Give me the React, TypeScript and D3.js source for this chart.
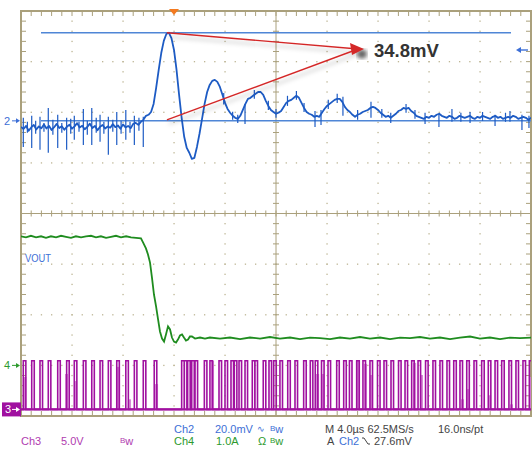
import React from 'react';
import * as d3 from 'd3';

// scope settings: 4.0 µs/div, trigger at t = 0
const timeDomain: [number, number] = [-12, 28];
const ch2PerDiv = 20; // mV
const ch3PerDiv = 5; // V
const ch4PerDiv = 1; // A
const ch2Offset = 1.83; // divisions above centre
const ch3Offset = -3.87;
const ch4Offset = -3.0;

// Ch2 ripple, sampled every 0.2 µs from t = -12 µs (mV)
const ch2Start = -12;
const ch2Step = 0.2;
const ch2Values = [
  -2.4, -3.2, -2.0, -3.9, -2.6, -1.6, -3.4, -2.2, -2.9, -1.4, -3.0, -2.0, -3.6, -2.5, -1.2, -2.8,
  -2.1, -3.5, -2.3, -1.5, -3.1, -2.2, -0.9, -2.6, -1.9, -3.3, -2.4, -1.1, -2.8, -2.0, -3.7, -2.3,
  -1.6, -3.0, -2.2, -2.7, -1.3, -2.5, -1.8, -3.1, -1.4, -2.6, -2.0, -2.9, -1.2, -0.8, -1.6, -0.4,
  0.4, 2.0, 2.4, 3.5, 6.7, 13.0, 20.1, 26.8, 31.6, 34.3, 34.8, 32.7, 28.0, 20.1, 10.3, 1.2,
  -6.3, -10.7, -12.6, -15.0, -14.6, -10.3, -5.1, 0.8, 6.7, 11.4, 14.2, 15.8, 16.2, 15.4, 13.4, 10.3,
  7.1, 4.7, 3.2, 2.0, 1.2, 0.8, 2.0, 4.3, 6.7, 8.7, 9.1, 9.9, 10.7, 11.4, 11.4, 10.3,
  7.9, 5.9, 4.3, 3.5, 2.8, 3.2, 3.9, 5.5, 7.1, 7.9, 8.3, 9.1, 9.9, 9.1, 7.1, 5.1,
  3.5, 2.8, 2.4, 1.6, 2.0, 1.6, 3.2, 4.7, 5.9, 6.7, 7.5, 8.3, 8.7, 8.7, 7.5, 5.5,
  4.3, 3.5, 2.4, 1.6, 2.4, 2.8, 3.5, 3.9, 4.3, 5.1, 5.5, 5.1, 4.3, 3.2, 2.4, 1.6,
  2.0, 1.2, 2.0, 2.8, 3.9, 4.3, 5.1, 4.7, 5.1, 3.9, 3.2, 2.0, 1.6, 1.2, 0.8, 1.6,
  1.2, 2.0, 1.6, 2.4, 2.8, 2.0, 1.6, 1.2, 2.0, 1.6, 0.8, 1.2, 2.0, 1.6, 1.2, 1.6,
  2.0, 1.2, 0.8, 1.6, 1.2, 2.0, 1.6, 1.2, 0.8, 1.6, 2.0, 1.2, 1.6, 0.8, 1.2, 1.6,
  1.2, 2.0, 1.6, 0.8, 1.2, 1.6, 1.2, 0.4, 1.2,
];

// switching glitches and fuzz on Ch2: [t µs, low mV, high mV]
const ch2Spikes: [number, number, number][] = [
  [-11.82, -10.3, 1.2], [-11.16, -10.7, 2.0], [-10.51, -11.4, 1.6], [-9.86, -12.6, 5.1],
  [-9.12, -10.7, 2.4], [-8.42, -11.4, 1.2], [-7.82, -7.5, 2.0], [-7.11, -9.5, 4.7],
  [-6.45, -9.5, 5.1], [-5.80, -8.3, 2.4], [-5.15, -13.4, 1.6], [-4.49, -9.5, 3.5],
  [-3.78, -7.5, 4.3], [-3.11, -9.5, 2.0], [-2.41, -10.3, 1.6],
  [-11.5, -4.7, -0.4], [-10.85, -5.1, 0.0], [-10.2, -4.3, -0.8], [-9.5, -5.5, 0.4],
  [-8.8, -4.7, -0.8], [-8.1, -5.1, 0.8], [-7.45, -4.3, -0.4], [-6.8, -5.5, 0.0],
  [-6.1, -4.7, 1.2], [-5.5, -5.1, -0.4], [-4.8, -4.3, 0.4], [-4.15, -5.1, 0.0],
  [-3.45, -4.7, -0.4], [-2.75, -3.9, 1.2],
  [3.9, 6.5, 11.0], [4.6, 0.4, 3.6], [5.0, -0.8, 2.4], [5.57, -1.2, 6.7], [6.3, 8.7, 12.2],
  [7.4, 4.3, 7.9], [8.0, 1.2, 4.7], [8.9, 5.9, 9.9], [9.6, 8.3, 11.8], [10.2, 3.5, 7.1],
  [11.06, -2.4, 3.9], [11.53, -1.6, 4.3], [12.1, 4.7, 8.3], [12.8, 7.1, 10.7], [13.25, 2.0, 9.5],
  [14.4, 0.4, 4.3], [15.45, 1.2, 7.5], [16.3, 1.2, 4.7], [17.0, -0.8, 3.2], [18.2, 3.2, 6.7],
  [18.9, 0.8, 4.3], [19.69, -1.2, 3.2], [20.78, -2.4, 2.8], [21.80, -0.4, 4.7], [22.5, -0.4, 3.2],
  [23.22, -0.8, 3.5], [24.2, 0.0, 3.5], [25.18, -2.0, 2.4], [26.0, -0.4, 3.2], [26.35, -0.4, 3.9],
  [27.29, -3.6, 2.4], [27.84, -2.8, 2.0],
];

// Ch4 inductor current: [t µs, A]
const ch4Points: [number, number][] = [
  [-12.0, 2.55], [-11.61, 2.53], [-11.22, 2.56], [-10.82, 2.53], [-10.43, 2.55], [-10.04, 2.52],
  [-9.65, 2.55], [-9.25, 2.53], [-8.86, 2.56], [-8.47, 2.54], [-8.08, 2.52], [-7.69, 2.55],
  [-7.29, 2.53], [-6.9, 2.55], [-6.51, 2.56], [-6.12, 2.53], [-5.73, 2.55], [-5.33, 2.52],
  [-4.94, 2.54], [-4.55, 2.56], [-4.16, 2.53], [-3.76, 2.55], [-3.37, 2.53], [-2.98, 2.52],
  [-2.59, 2.51], [-2.43, 2.43], [-2.2, 2.31], [-2.04, 2.19], [-1.88, 2.03], [-1.73, 1.74],
  [-1.57, 1.4], [-1.41, 1.17], [-1.25, 0.91], [-1.1, 0.67], [-0.94, 0.53], [-0.78, 0.47],
  [-0.63, 0.61], [-0.47, 0.77], [-0.31, 0.71], [-0.16, 0.55], [0, 0.47], [0.16, 0.45],
  [0.31, 0.51], [0.47, 0.59], [0.63, 0.61], [0.78, 0.55], [0.94, 0.49], [1.1, 0.51],
  [1.25, 0.57], [1.41, 0.57], [1.65, 0.53], [2.04, 0.55], [2.43, 0.53], [2.82, 0.55],
  [3.61, 0.53], [4.39, 0.55], [5.18, 0.52], [5.96, 0.55], [6.75, 0.53], [7.53, 0.56],
  [8.31, 0.53], [9.1, 0.55], [9.88, 0.52], [10.67, 0.55], [11.45, 0.54], [12.24, 0.52],
  [13.02, 0.55], [13.8, 0.53], [14.59, 0.56], [15.37, 0.53], [16.16, 0.55], [16.94, 0.52],
  [17.73, 0.55], [18.51, 0.54], [19.29, 0.56], [20.08, 0.53], [20.86, 0.55], [21.65, 0.52],
  [22.43, 0.55], [23.22, 0.57], [24.0, 0.53], [24.78, 0.55], [25.57, 0.52], [26.35, 0.55],
  [27.14, 0.54], [28.0, 0.55],
];

// Ch3 switch node pulses: rising edge times (µs)
const ch3PulseStarts = [
  -11.82, -11.16, -10.51, -9.86, -9.12, -8.42, -7.82, -7.11, -6.45, -5.8, -5.15, -4.49, -3.78,
  -3.11, -2.41, -1.55,
  0.6, 0.81, 1.07, 1.39, 1.65, 2.38, 2.82, 3.53, 4.0, 4.47, 4.73, 5.1, 5.57, 6.14, 6.35, 7.0,
  7.45, 7.82, 8.31, 8.92, 9.49, 10.17, 10.69, 11.08, 11.57, 12.08, 12.76, 13.31, 13.76, 14.33,
  14.82, 15.37, 15.96, 16.47, 17.02, 17.61, 18.12, 18.64, 19.14, 19.73, 20.31, 20.86, 21.41,
  21.94, 22.43, 22.96, 23.53, 24.13, 24.65, 25.18, 25.7, 26.27, 26.82, 27.37, 27.87,
];
const ch3PulseWidth = 0.2; // µs
const ch3High = 4.8; // V
// faint persistence samples: [t µs, V]
const ch3Ghosts: [number, number][] = [
  [-11.82, 3.2], [-8.55, 3.5], [-7.84, 2.8], [-4.47, 4.2], [-3.61, 1.0], [-1.49, 2.5],
  [2.9, 4.8], [11.14, 3.5], [11.53, 3.5], [14.27, 4.8], [14.9, 4.5], [15.37, 3.4],
  [18.75, 4.6], [19.29, 3.4], [22.51, 1.0], [22.9, 2.0], [24.63, 1.4], [26.35, 0.5], [27.84, 3.2],
];

const cursorLevels = [0, 34.8]; // mV
const deltaLabel = '34.8mV';
const traceLabel = 'VOUT';

const W = 532;
const H = 450;
const left = 21;
const right = 531;
const top = 11;
const bottom = 416;
const divH = (bottom - top) / 8;
const midY = top + divH * 4;

const grid = '#aaa07c';
const blue = '#1d5bc4';
const txtBlue = '#3d6fd6';
const green = '#1f8c1f';
const txtGreen = '#2d9a2d';
const purple = '#a010a0';
const txtPurple = '#b03cb0';
const dark = '#444';

const font = '"Liberation Sans", Arial, sans-serif';

function Bw({ x, y, color }: { x: number; y: number; color: string }) {
  return (
    <text x={x} y={y} fill={color} fontFamily={font}>
      <tspan fontSize={8} dy={-2}>B</tspan>
      <tspan fontSize={11} dy={2}>w</tspan>
    </text>
  );
}

export default function App() {
  const x = d3.scaleLinear().domain(timeDomain).range([left, right]);
  const yCh2 = d3.scaleLinear()
    .domain([0, ch2PerDiv])
    .range([midY - ch2Offset * divH, midY - (ch2Offset + 1) * divH]);
  const yCh3 = d3.scaleLinear()
    .domain([0, ch3PerDiv])
    .range([midY - ch3Offset * divH, midY - (ch3Offset + 1) * divH]);
  const yCh4 = d3.scaleLinear()
    .domain([0, ch4PerDiv])
    .range([midY - ch4Offset * divH, midY - (ch4Offset + 1) * divH]);

  const majorT = d3.range(timeDomain[0], timeDomain[1] + 0.001, 4);
  const minorT = d3.range(timeDomain[0], timeDomain[1] + 0.001, 0.8);
  const centerT = 8;
  const majorY = d3.range(0, 9).map(j => top + j * divH);
  const minorY = d3.range(0, 41).map(m => top + (m * divH) / 5);

  const ch2Line = d3.line<number>()
    .x((_, i) => x(ch2Start + i * ch2Step))
    .y(v => yCh2(v));

  const ch4Line = d3.line<[number, number]>()
    .x(d => x(d[0]))
    .y(d => yCh4(d[1]));

  const ch3Pts: [number, number][] = [[timeDomain[0], 0]];
  ch3PulseStarts.forEach(s => {
    ch3Pts.push([s, 0], [s, ch3High], [s + ch3PulseWidth, ch3High], [s + ch3PulseWidth, 0]);
  });
  ch3Pts.push([timeDomain[1], 0]);
  const ch3Line = d3.line<[number, number]>()
    .x(d => x(d[0]))
    .y(d => yCh3(d[1]));

  const peakT = ch2Start + ch2Values.indexOf(d3.max(ch2Values)!) * ch2Step;
  const tip: [number, number] = [364, 49];
  const ch2Zero = yCh2(0);
  const ch3Zero = yCh3(0);
  const ch4Zero = yCh4(0);

  return (
    <svg width={W} height={H} style={{ position: 'absolute', left: 0, top: 0, background: '#fff' }}>
      <defs>
        <clipPath id="screen">
          <rect x={left} y={top} width={right - left} height={bottom - top} />
        </clipPath>
        <filter id="shadow" x="-20%" y="-50%" width="140%" height="200%">
          <feDropShadow dx={2} dy={4} stdDeviation={2} floodColor="#000" floodOpacity={0.25} />
        </filter>
        <filter id="blur">
          <feGaussianBlur stdDeviation={2.2} />
        </filter>
      </defs>
      <rect width={W} height={H} fill="#fff" />

      {/* dotted graticule */}
      <g fill="#bdb594">
        {majorT.filter(t => t !== centerT && t > timeDomain[0] && t < timeDomain[1]).map(t =>
          minorY.slice(1, -1).map((yy, k) => (
            <rect key={`v${t}-${k}`} x={x(t) - 0.6} y={yy - 0.6} width={1.3} height={1.3} />
          )),
        )}
        {majorY.slice(1, -1).filter((_, j) => j !== 3).map((yy, j) =>
          minorT.slice(1, -1).map((t, k) => (
            <rect key={`h${j}-${k}`} x={x(t) - 0.6} y={yy - 0.6} width={1.3} height={1.3} />
          )),
        )}
      </g>
      {/* centre axes with ticks */}
      <g stroke={grid} strokeWidth={1}>
        <line x1={left} x2={right} y1={midY} y2={midY} />
        <line x1={x(centerT)} x2={x(centerT)} y1={top} y2={bottom} />
        {minorT.map(t => (
          <line key={`ct${t}`} x1={x(t)} x2={x(t)} y1={midY - 3} y2={midY + 3} />
        ))}
        {minorY.map((yy, k) => (
          <line key={`cy${k}`} x1={x(centerT) - 3} x2={x(centerT) + 3} y1={yy} y2={yy} />
        ))}
        {minorT.map(t => (
          <g key={`bt${t}`}>
            <line x1={x(t)} x2={x(t)} y1={top} y2={top + 5} />
            <line x1={x(t)} x2={x(t)} y1={bottom - 5} y2={bottom} />
          </g>
        ))}
        {minorY.map((yy, k) => (
          <g key={`by${k}`}>
            <line x1={left} x2={left + 5} y1={yy} y2={yy} />
            <line x1={right - 5} x2={right} y1={yy} y2={yy} />
          </g>
        ))}
      </g>
      <rect x={left} y={top} width={right - left} height={bottom - top} fill="none" stroke={grid} strokeWidth={2} />

      <g clipPath="url(#screen)">
        {/* Ch3 */}
        <g fill="#d68ad6">
          {ch3Ghosts.map(([t, v], i) => (
            <rect key={i} x={x(t)} y={yCh3(v)} width={x(t + 0.24) - x(t)} height={ch3Zero - yCh3(v)} />
          ))}
        </g>
        <path d={ch3Line(ch3Pts)!} fill="none" stroke={purple} strokeWidth={1.6} />
        <line x1={left} x2={right} y1={ch3Zero} y2={ch3Zero} stroke={purple} strokeWidth={2.2} />

        {/* Ch4 */}
        <path d={ch4Line(ch4Points)!} fill="none" stroke={green} strokeWidth={1.8} />

        {/* cursors */}
        <line x1={41} x2={511} y1={yCh2(cursorLevels[1])} y2={yCh2(cursorLevels[1])} stroke="#4f86d6" strokeWidth={1.5} />
        <line x1={41} x2={right} y1={yCh2(cursorLevels[0])} y2={yCh2(cursorLevels[0])} stroke="#4f86d6" strokeWidth={1.5} />

        {/* Ch2 */}
        <g stroke={blue} strokeWidth={1.2}>
          {ch2Spikes.map(([t, lo, hi], i) => (
            <line key={i} x1={x(t)} x2={x(t)} y1={yCh2(lo)} y2={yCh2(hi)} />
          ))}
        </g>
        <path d={ch2Line(ch2Values)!} fill="none" stroke={blue} strokeWidth={1.8} strokeLinejoin="round" />
      </g>

      {/* measurement arrows */}
      <g filter="url(#shadow)" stroke="#d42828" strokeWidth={1.4}>
        <line x1={x(peakT) - 2} y1={yCh2(cursorLevels[1])} x2={tip[0] - 6} y2={tip[1]} />
        <line x1={x(peakT) - 2} y1={ch2Zero - 1} x2={tip[0] - 6} y2={tip[1]} />
      </g>
      <ellipse cx={tip[0] - 2} cy={tip[1] + 5} rx={5} ry={4.5} fill="#444" filter="url(#blur)" opacity={0.85} />
      <polygon points={`${tip[0]},${tip[1]} ${tip[0] - 14},${tip[1] - 6} ${tip[0] - 12},${tip[1] + 6}`} fill="#d42828" />
      <text x={374} y={57} fontFamily={font} fontWeight="bold" fontSize={18.5} fill="#333">{deltaLabel}</text>

      {/* trigger marker */}
      <polygon points={`${x(0) - 5},9 ${x(0) + 5},9 ${x(0)},15`} fill="#f47a20" />
      {/* trigger level arrow */}
      <g stroke={txtBlue} fill={txtBlue} strokeWidth={1.4}>
        <line x1={520} x2={528} y1={50} y2={50} />
        <polygon points="516,50 521,47 521,53" stroke="none" />
      </g>

      {/* channel markers */}
      <text x={4} y={125} fontFamily={font} fontSize={11} fill={txtBlue}>2</text>
      <g stroke={txtBlue} fill={txtBlue} strokeWidth={1}>
        <line x1={12} x2={17} y1={ch2Zero} y2={ch2Zero} />
        <polygon points={`20,${ch2Zero} 16,${ch2Zero - 2.5} 16,${ch2Zero + 2.5}`} stroke="none" />
      </g>
      <text x={4} y={ch4Zero + 4} fontFamily={font} fontSize={11} fill={txtGreen}>4</text>
      <g stroke={txtGreen} fill={txtGreen} strokeWidth={1}>
        <line x1={12} x2={17} y1={ch4Zero} y2={ch4Zero} />
        <polygon points={`20,${ch4Zero} 16,${ch4Zero - 2.5} 16,${ch4Zero + 2.5}`} stroke="none" />
      </g>
      <rect x={2} y={ch3Zero - 7} width={19} height={14} fill={purple} />
      <text x={5} y={ch3Zero + 4} fontFamily={font} fontSize={11} fill="#fff">3</text>
      <g stroke="#fff" fill="#fff" strokeWidth={1}>
        <line x1={12} x2={17} y1={ch3Zero} y2={ch3Zero} />
        <polygon points={`20,${ch3Zero} 16,${ch3Zero - 2.5} 16,${ch3Zero + 2.5}`} stroke="none" />
      </g>

      <text x={25} y={262} fontFamily={font} fontSize={11} fill={txtBlue} textLength={26} lengthAdjust="spacingAndGlyphs">{traceLabel}</text>

      {/* status bar */}
      <g fontFamily={font} fontSize={11}>
        <text x={174} y={433} fill={txtBlue}>Ch2</text>
        <text x={215} y={433} fill={txtBlue}>20.0mV</text>
        <text x={257} y={432} fill={txtBlue} fontSize={9}>∿</text>
        <text x={325} y={433} fill={dark}>M 4.0µs 62.5MS/s</text>
        <text x={438} y={433} fill={dark}>16.0ns/pt</text>

        <text x={21} y={445} fill={txtPurple}>Ch3</text>
        <text x={61} y={445} fill={txtPurple}>5.0V</text>
        <text x={174} y={445} fill={txtGreen}>Ch4</text>
        <text x={216} y={445} fill={txtGreen}>1.0A</text>
        <text x={258} y={445} fill={txtGreen}>Ω</text>
        <text x={327} y={445} fill={dark}>A</text>
        <text x={339} y={445} fill={txtBlue}>Ch2</text>
        <text x={374} y={445} fill={dark}>27.6mV</text>
      </g>
      <Bw x={270} y={433} color={txtBlue} />
      <Bw x={120} y={445} color={txtPurple} />
      <Bw x={270} y={445} color={txtGreen} />
      <path d="M362,438 h2 l4,6 h2" fill="none" stroke={dark} strokeWidth={1} />
    </svg>
  );
}
